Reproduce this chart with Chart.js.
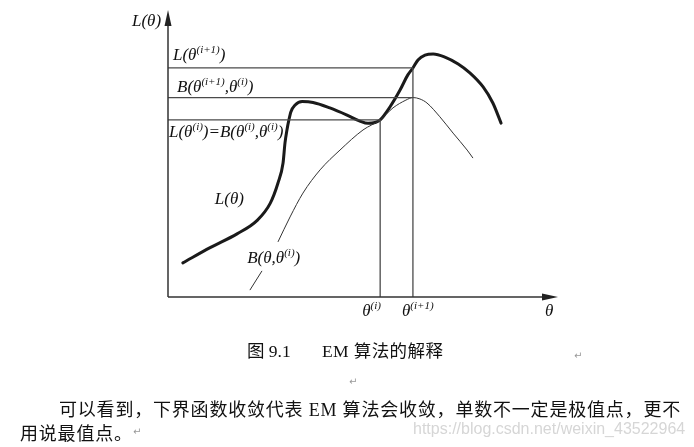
<!DOCTYPE html>
<html>
<head>
<meta charset="utf-8">
<script src="https://cdn.jsdelivr.net/npm/chart.js@4/dist/chart.umd.min.js"></script>
<style>
  body { margin: 0; background: #fff; }
  #wrap { position: relative; width: 694px; height: 447px; overflow: hidden; }
  #em { position: absolute; left: 0; top: 0; }
  .txt { position: absolute; white-space: nowrap; color: #111; }
  .cjk { font-family: "Liberation Serif", "Noto Sans CJK SC", serif; }
  .mark { font-family: "DejaVu Sans", sans-serif; font-size: 10px; color: #999; }
</style>
</head>
<body>
<div id="wrap">
  <canvas id="em" width="694" height="447"></canvas>
  <div class="txt cjk" style="left:247px; top:337px; font-size:17.5px;">图 9.1</div>
  <div class="txt cjk" style="left:322px; top:337px; font-size:17.5px; letter-spacing:0.4px;">EM 算法的解释</div>
  <div class="txt mark" style="left:574px; top:350px;">↵</div>
  <div class="txt mark" style="left:349px; top:376px;">↵</div>
  <div class="txt cjk" style="left:59px; top:395px; font-size:18px; letter-spacing:0.8px;">可以看到，下界函数收敛代表 EM 算法会收敛，单数不一定是极值点，更不</div>
  <div class="txt cjk" style="left:20px; top:419px; font-size:18px; letter-spacing:0.8px;">用说最值点。</div>
  <div class="txt mark" style="left:133px; top:426px;">↵</div>
  <div class="txt" style="left:413px; top:420px; font-family:'Liberation Sans', sans-serif; font-size:16px; color:#d6d6d6;">https://blog.csdn.net/weixin_43522964</div>
</div>
<script>
// L(theta): thick curve
const lTheta = [0.38, 1.08, 1.77, 2.28, 2.62, 2.82, 2.95, 3.0, 3.05, 3.1, 3.15, 3.26, 3.44, 3.72, 4.15, 4.59, 4.92, 5.13, 5.31, 5.44, 5.69, 5.95, 6.15, 6.28, 6.41, 6.59, 6.8, 7.1, 7.44, 7.74, 8.08, 8.33, 8.54];
const lValue = [1.19, 1.72, 2.2, 2.66, 3.26, 3.97, 4.67, 5.37, 5.82, 6.17, 6.45, 6.69, 6.81, 6.78, 6.59, 6.34, 6.13, 6.05, 6.08, 6.17, 6.62, 7.21, 7.74, 7.98, 8.26, 8.43, 8.47, 8.36, 8.12, 7.81, 7.32, 6.76, 6.06];

// B(theta, theta_i): thin lower bound, broken by its label
const bTheta1 = [2.1, 2.41];
const bValue1 = [0.24, 0.91];
const bTheta2 = [2.82, 3.13, 3.46, 3.9, 4.41, 5.0, 5.44, 5.77, 6.1, 6.28, 6.46, 6.64, 6.97, 7.31, 7.67, 7.82];
const bValue2 = [1.92, 2.79, 3.62, 4.43, 5.12, 5.82, 6.17, 6.59, 6.86, 6.95, 6.9, 6.76, 6.28, 5.71, 5.12, 4.84];

// marked points on the axes
const thetaI = 5.44;
const thetaI1 = 6.28;
const levelL1 = 7.98;  // L(theta^(i+1))
const levelB1 = 6.95;  // B(theta^(i+1), theta^(i))
const levelL0 = 6.17;  // L(theta^(i)) = B(theta^(i), theta^(i))

const pts = (xs, ys) => xs.map((x, i) => ({ x: x, y: ys[i] }));

const guide = (data) => ({
  data: data,
  borderColor: "#4a4a4a",
  borderWidth: 1.3,
  pointRadius: 0,
  tension: 0,
});

// label pieces: [text, superscript?]
const labels = [
  { x: 0, y: 10, dx: -36, dy: 16, parts: [["L(θ)", 0]] },
  { x: 10, y: 0, dx: -13, dy: 19, parts: [["θ", 0]] },
  { x: thetaI, y: 0, dx: -18, dy: 19, parts: [["θ", 0], ["(i)", 1]] },
  { x: thetaI1, y: 0, dx: -11, dy: 19, parts: [["θ", 0], ["(i+1)", 1]] },
  { x: 0, y: levelL1, dx: 5, dy: -8, parts: [["L(θ", 0], ["(i+1)", 1], [")", 0]] },
  { x: 0, y: levelB1, dx: 9, dy: -6, parts: [["B(θ", 0], ["(i+1)", 1], [",θ", 0], ["(i)", 1], [")", 0]] },
  { x: 0, y: levelL0, dx: 1, dy: 17, parts: [["L(θ", 0], ["(i)", 1], [")=B(θ", 0], ["(i)", 1], [",θ", 0], ["(i)", 1], [")", 0]] },
  { x: 1.2, y: 3.24, dx: 0, dy: 0, parts: [["L(θ)", 0]] },
  { x: 2.03, y: 1.18, dx: 0, dy: 0, parts: [["B(θ,θ", 0], ["(i)", 1], [")", 0]] },
];

const axesPlugin = {
  id: "axesPlugin",
  afterDatasetsDraw(chart) {
    const ctx = chart.ctx;
    const xs = chart.scales.x, ys = chart.scales.y;
    const x0 = xs.getPixelForValue(0), y0 = ys.getPixelForValue(0);
    const xEnd = xs.getPixelForValue(10), yEnd = ys.getPixelForValue(10);
    ctx.save();
    ctx.strokeStyle = "#333";
    ctx.fillStyle = "#222";
    ctx.lineWidth = 1.5;
    ctx.beginPath();
    ctx.moveTo(x0, y0);
    ctx.lineTo(xEnd - 10, y0);
    ctx.moveTo(x0, y0);
    ctx.lineTo(x0, yEnd + 10);
    ctx.stroke();
    // arrow heads
    ctx.beginPath();
    ctx.moveTo(xEnd, y0);
    ctx.lineTo(xEnd - 16, y0 - 3.5);
    ctx.lineTo(xEnd - 16, y0 + 3.5);
    ctx.closePath();
    ctx.fill();
    ctx.beginPath();
    ctx.moveTo(x0, yEnd);
    ctx.lineTo(x0 - 3.5, yEnd + 16);
    ctx.lineTo(x0 + 3.5, yEnd + 16);
    ctx.closePath();
    ctx.fill();

    ctx.fillStyle = "#111";
    ctx.textBaseline = "alphabetic";
    labels.forEach((lb) => {
      let cx = xs.getPixelForValue(lb.x) + lb.dx;
      const cy = ys.getPixelForValue(lb.y) + lb.dy;
      lb.parts.forEach(([t, sup]) => {
        ctx.font = sup ? 'italic 11px "Liberation Serif"' : 'italic 17px "Liberation Serif"';
        ctx.fillText(t, cx, sup ? cy - 7 : cy);
        cx += ctx.measureText(t).width;
      });
    });
    ctx.restore();
  },
};

new Chart(document.getElementById("em"), {
  type: "line",
  data: {
    datasets: [
      guide([{ x: 0, y: levelL1 }, { x: thetaI1, y: levelL1 }]),
      guide([{ x: 0, y: levelB1 }, { x: thetaI1, y: levelB1 }]),
      guide([{ x: 0, y: levelL0 }, { x: thetaI, y: levelL0 }]),
      guide([{ x: thetaI, y: 0 }, { x: thetaI, y: levelL0 }]),
      guide([{ x: thetaI1, y: 0 }, { x: thetaI1, y: levelL1 }]),
      {
        label: "B1",
        data: pts(bTheta1, bValue1),
        borderColor: "#333",
        borderWidth: 1,
        pointRadius: 0,
      },
      {
        label: "B2",
        data: pts(bTheta2, bValue2),
        borderColor: "#333",
        borderWidth: 1,
        pointRadius: 0,
        cubicInterpolationMode: "monotone",
      },
      {
        label: "L",
        data: pts(lTheta, lValue),
        borderColor: "#1a1a1a",
        borderWidth: 3,
        pointRadius: 0,
        cubicInterpolationMode: "monotone",
        borderCapStyle: "round",
      },
    ],
  },
  options: {
    responsive: false,
    animation: false,
    devicePixelRatio: 1,
    layout: { padding: { left: 168, right: 136, top: 10, bottom: 150 } },
    plugins: { legend: { display: false }, tooltip: { enabled: false } },
    scales: {
      x: { type: "linear", min: 0, max: 10, display: false },
      y: { type: "linear", min: 0, max: 10, display: false },
    },
  },
  plugins: [axesPlugin],
});
</script>
</body>
</html>
